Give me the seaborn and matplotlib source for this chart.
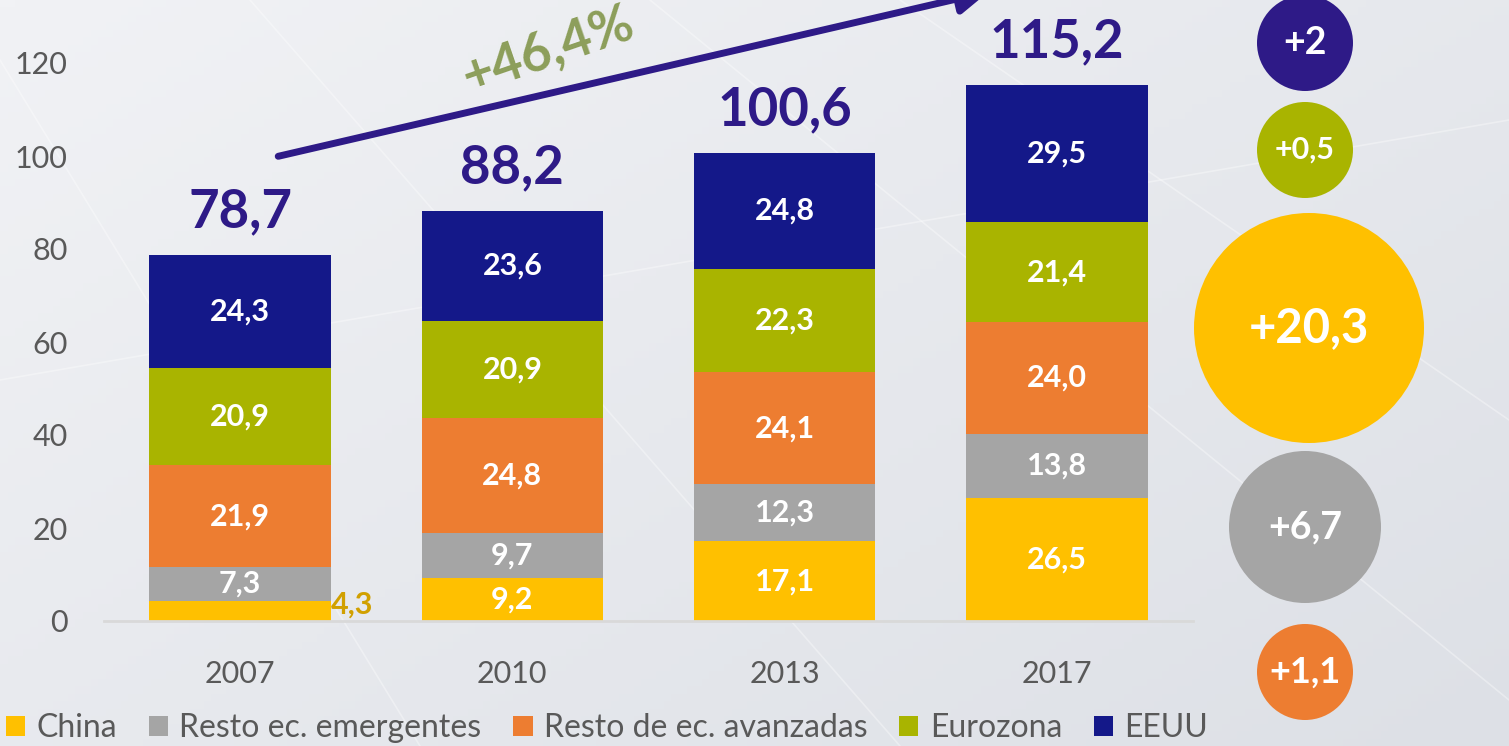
import numpy as np
import pandas as pd
import matplotlib
matplotlib.use("Agg")
import matplotlib.pyplot as plt
from matplotlib.patches import Patch, Circle
import seaborn as sns

# datos (billones de dolares)
years = ["2007", "2010", "2013", "2017"]
china = [4.3, 9.2, 17.1, 26.5]
emergentes = [7.3, 9.7, 12.3, 13.8]
avanzadas = [21.9, 24.8, 24.1, 24.0]
eurozona = [20.9, 20.9, 22.3, 21.4]
eeuu = [24.3, 23.6, 24.8, 29.5]
totales = [78.7, 88.2, 100.6, 115.2]
crecimiento = "+46,4%"

# variacion 2007-2017 por bloque (burbujas de la derecha)
burbuja_labels = ["+2", "+0,5", "+20,3", "+6,7", "+1,1"]

series = ["China", "Resto ec. emergentes", "Resto de ec. avanzadas", "Eurozona", "EEUU"]
colores = ["#FFC000", "#A5A5A5", "#ED7D31", "#A9B400", "#141889"]

# estilo de las burbujas (pixeles de la figura)
burbuja_colores = ["#2E1A87", "#A9B400", "#FFC000", "#A5A5A5", "#ED7D31"]
burbuja_cx = [1305, 1305, 1309, 1305, 1305]
burbuja_cy = [43, 150, 328, 527, 672]
burbuja_r = [48, 48, 115, 76, 48]
burbuja_fs = [27, 22, 34, 27, 26]

sns.set_theme(style="white")
plt.rcParams["font.family"] = ["Lato", "DejaVu Sans"]

W, H = 1509, 746
fig = plt.figure(figsize=(W / 100, H / 100), dpi=100)

# fondo gris con degradado suave
bg = fig.add_axes([0, 0, 1, 1], zorder=0)
gx, gy = np.meshgrid(np.linspace(0, 1, 200), np.linspace(0, 1, 100))
grad = 0.55 * gx + 0.45 * gy
bg.imshow(grad, cmap=matplotlib.colors.LinearSegmentedColormap.from_list(
    "bg", ["#F1F2F5", "#DDE0E6"]), aspect="auto", extent=(0, W, H, 0))
for x0, y0, x1, y1 in [(0, 60, 420, 746), (250, 0, 900, 746), (650, 0, 1509, 700),
                       (0, 380, 1509, 120), (900, 0, 1509, 420)]:
    bg.plot([x0, x1], [y0, y1], color="white", lw=1.2, alpha=0.35)
bg.set_xlim(0, W)
bg.set_ylim(H, 0)
bg.axis("off")

ax = fig.add_axes([104 / W, 125 / H, 1089 / W, 621 / H], zorder=2)
ax.patch.set_alpha(0)

df = pd.DataFrame({"year": years, "China": china, "Resto ec. emergentes": emergentes,
                   "Resto de ec. avanzadas": avanzadas, "Eurozona": eurozona, "EEUU": eeuu})
cum = df[series].cumsum(axis=1)

# barras apiladas: se pintan los acumulados de mayor a menor
for s, c in reversed(list(zip(series, colores))):
    sns.barplot(x=df["year"], y=cum[s], color=c, width=0.667, saturation=1,
                linewidth=0, ax=ax)

for i in range(len(years)):
    for s in series:
        v = df.loc[i, s]
        mid = cum.loc[i, s] - v / 2
        txt = f"{v:.1f}".replace(".", ",")
        if v < 5:
            ax.text(i + 0.335, v / 2 + 1.3, txt, ha="left", va="center", fontsize=22,
                    fontweight="bold", color="#D1A000", clip_on=False)
        else:
            ax.text(i, mid, txt, ha="center", va="center", fontsize=22,
                    fontweight="bold", color="white")
    ax.annotate(f"{totales[i]:.1f}".replace(".", ","), xy=(i, totales[i]),
                xytext=(0, 31), textcoords="offset points", ha="center", va="center",
                fontsize=38, fontweight="bold", color="#2E1A87", annotation_clip=False)

# flecha de crecimiento
ax.annotate("", xy=(2.76, 135.5), xytext=(0.13, 99.8),
            arrowprops=dict(arrowstyle="-|>", color="#2E1A87", lw=5,
                            mutation_scale=45, capstyle="round"),
            annotation_clip=False)
ax.text(1.13, 122.8, crecimiento, rotation=19, ha="center", va="center",
        fontsize=38, color="#8C9E5A", fontweight="bold", clip_on=False)

ax.set_xlim(-0.5, 3.5)
ax.set_ylim(0, 621 / 4.65)
ax.set_yticks(range(0, 121, 20))
ax.set_xlabel("")
ax.set_ylabel("")
ax.tick_params(axis="x", length=0, pad=28, labelsize=22, labelcolor="#595959")
ax.tick_params(axis="y", length=0, pad=26, labelsize=22, labelcolor="#595959")
for side in ["top", "right", "left"]:
    ax.spines[side].set_visible(False)
ax.spines["bottom"].set_color("#D9D9D9")
ax.spines["bottom"].set_linewidth(2)

# burbujas
ov = fig.add_axes([0, 0, 1, 1], zorder=3)
ov.patch.set_alpha(0)
ov.set_xlim(0, W)
ov.set_ylim(H, 0)
ov.axis("off")
for lab, c, x, y, r, fs in zip(burbuja_labels, burbuja_colores, burbuja_cx, burbuja_cy,
                               burbuja_r, burbuja_fs):
    ov.add_patch(Circle((x, y), r, color=c, lw=0))
    ov.text(x, y, lab, ha="center", va="center", color="white", fontsize=fs,
            fontweight="bold")

handles = [Patch(facecolor=c, edgecolor="none") for c in colores]
fig.legend(handles, series, loc="lower left", bbox_to_anchor=(0.004, 0.004), ncol=5,
           frameon=False, fontsize=23, labelcolor="#595959", handlelength=0.6,
           handleheight=0.6, handletextpad=0.35, columnspacing=1.0, borderpad=0,
           borderaxespad=0)

fig.savefig("out.png", dpi=100)
